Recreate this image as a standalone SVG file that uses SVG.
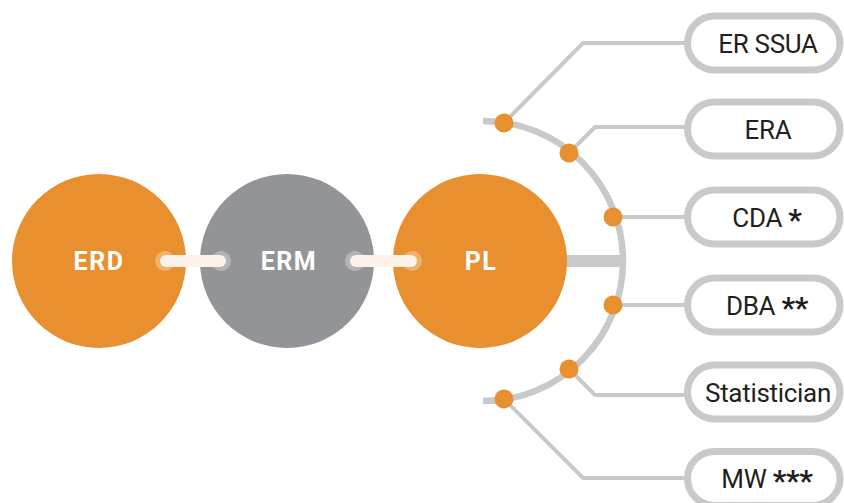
<svg xmlns="http://www.w3.org/2000/svg" width="844" height="503" viewBox="0 0 844 503">
<style>
.big{fill:#fff;font-family:Roboto,"Liberation Sans",sans-serif;font-weight:bold;font-size:25px;letter-spacing:1.5px;text-anchor:middle}
.lbl{fill:#231f20;font-family:Roboto,"Liberation Sans",sans-serif;font-size:26px;letter-spacing:-0.3px;text-anchor:middle}
.ast{font-weight:bold;font-size:30px}
.pill{fill:#fff;stroke:#c8c9ca;stroke-width:7}
.ln{fill:none;stroke:#c8c9ca;stroke-width:4}
.dot{fill:#e8902f}
.orange{fill:#e8902f}
.grey{fill:#939497}
.halo{fill:#fff;fill-opacity:0.3}
.link{stroke:#fdf2ea;stroke-width:12;stroke-linecap:round}
</style>
<g id="connectors">
  <path class="ln" d="M504,123 L583,43 L688,43"/>
  <path class="ln" d="M569,153 L595,127 L688,127"/>
  <path class="ln" d="M613,217 L688,217"/>
  <path class="ln" d="M613,305 L688,305"/>
  <path class="ln" d="M569,369 L595,395 L688,395"/>
  <path class="ln" d="M504,399 L583,478 L688,478"/>
  <path d="M483,121 A140,140 0 0 1 483,401" fill="none" stroke="#c8c9ca" stroke-width="6.5"/>
  <rect x="566" y="255" width="54" height="12" fill="#c8c9ca"/>
</g>
<g id="ERD">
  <circle class="orange" cx="99" cy="261" r="87"/>
  <text class="big" x="99" y="269.5">ERD</text>
</g>
<g id="ERM">
  <circle class="grey" cx="287" cy="261" r="87"/>
  <text class="big" x="289" y="269.5">ERM</text>
</g>
<g id="PL">
  <circle class="orange" cx="480" cy="261" r="87"/>
  <text class="big" x="481" y="269.5">PL</text>
</g>
<g id="links">
  <circle class="halo" cx="165" cy="261" r="10"/>
  <circle class="halo" cx="221" cy="261" r="10"/>
  <line class="link" x1="166" y1="261" x2="220" y2="261"/>
  <circle class="halo" cx="355" cy="261" r="10"/>
  <circle class="halo" cx="412" cy="261" r="10"/>
  <line class="link" x1="356" y1="261" x2="411" y2="261"/>
</g>
<g id="dots">
  <circle class="dot" cx="504" cy="123" r="9.5"/>
  <circle class="dot" cx="569" cy="153" r="9.5"/>
  <circle class="dot" cx="613" cy="217" r="9.5"/>
  <circle class="dot" cx="613" cy="305" r="9.5"/>
  <circle class="dot" cx="569" cy="369" r="9.5"/>
  <circle class="dot" cx="504" cy="399" r="9.5"/>
</g>
<g id="er-ssua">
  <rect class="pill" x="687.5" y="16" width="152.5" height="54" rx="27"/>
  <text class="lbl" x="768" y="52.5">ER SSUA</text>
</g>
<g id="era">
  <rect class="pill" x="687.5" y="102" width="152.5" height="54" rx="27"/>
  <text class="lbl" x="768" y="138.5">ERA</text>
</g>
<g id="cda">
  <rect class="pill" x="687.5" y="190" width="152.5" height="54" rx="27"/>
  <text class="lbl" x="767" y="226.5">CDA <tspan class="ast" dy="3">*</tspan></text>
</g>
<g id="dba">
  <rect class="pill" x="687.5" y="278" width="152.5" height="54" rx="27"/>
  <text class="lbl" x="767" y="314.5">DBA <tspan class="ast" dy="3">**</tspan></text>
</g>
<g id="statistician">
  <rect class="pill" x="687.5" y="365" width="152.5" height="54" rx="27"/>
  <text class="lbl" x="768" y="401.5">Statistician</text>
</g>
<g id="mw">
  <rect class="pill" x="687.5" y="451.5" width="152.5" height="54" rx="27"/>
  <text class="lbl" x="767" y="488">MW <tspan class="ast" dy="3">***</tspan></text>
</g>
</svg>
